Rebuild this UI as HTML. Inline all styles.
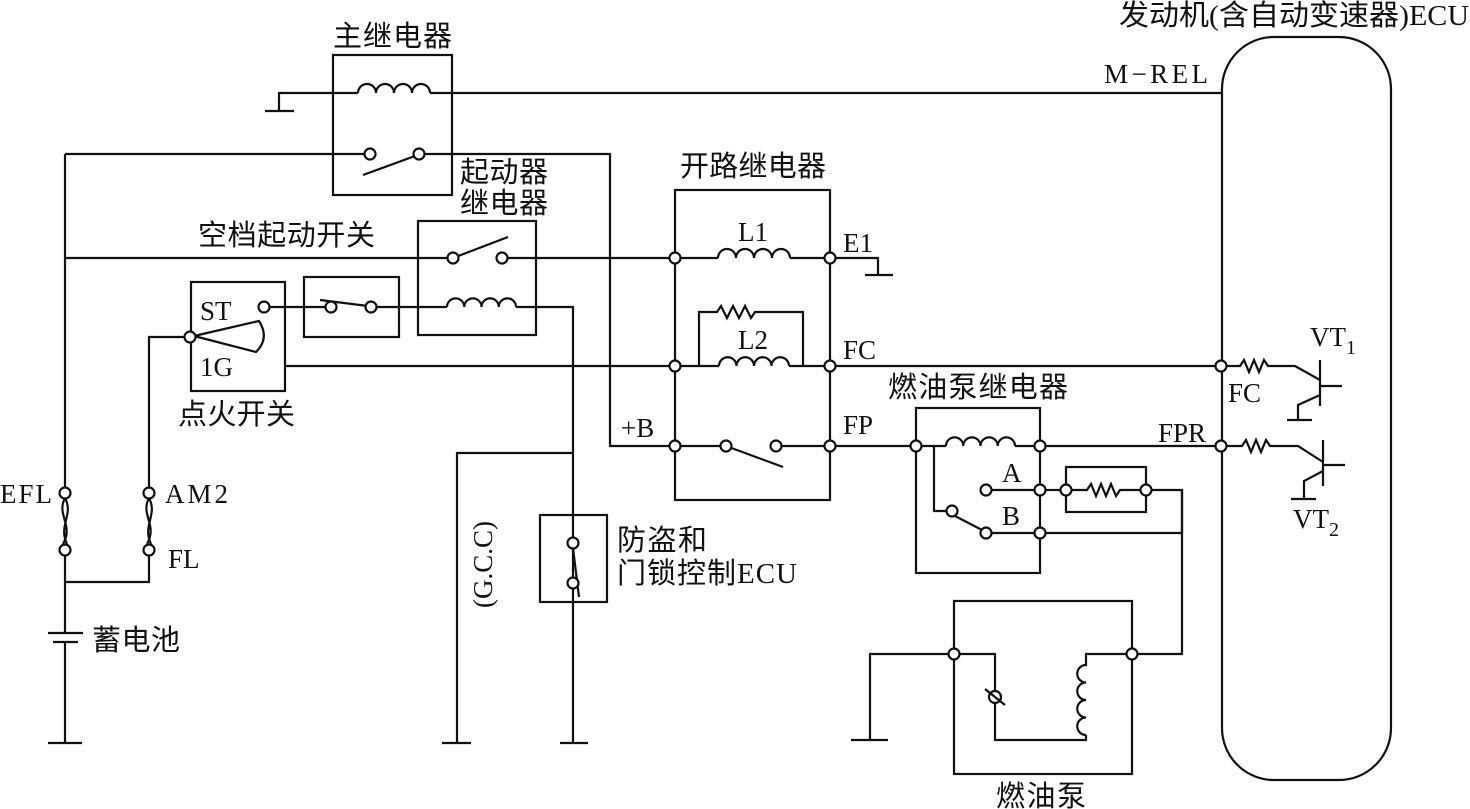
<!DOCTYPE html>
<html><head><meta charset="utf-8"><style>
html,body{margin:0;padding:0;background:#fff;}
svg{display:block;}
text{font-family:"Liberation Serif","Noto Serif CJK SC",serif;fill:#111;}
.c{font-family:"Liberation Serif","Noto Sans CJK SC",sans-serif;font-size:29px;}
.l{font-size:27px;}
</style></head><body>
<svg width="1470" height="809" viewBox="0 0 1470 809" xmlns="http://www.w3.org/2000/svg">
<g fill="none" stroke="#111" stroke-width="2.2">
<rect x="1222" y="37" width="169" height="743" rx="52" ry="52"/>
<rect x="333" y="55" width="119" height="140"/>
<path d="M279 111V93H358"/><path d="M265 111H294"/>
<path d="M358 93a9 9 0 0 1 18 0a9 9 0 0 1 18 0a9 9 0 0 1 18 0a9 9 0 0 1 18 0"/>
<path d="M430 93H1222"/>
<path d="M65 154H365"/><path d="M424 154H610V446H670"/>
<path d="M363 175L415 156"/>
<path d="M65 154V488"/>
<path d="M65 258H448"/><path d="M507 258H670"/>
<path d="M453 258L508 237"/>
<rect x="418" y="221" width="118" height="114"/>
<path d="M447 307a8.6 8.6 0 0 1 17.25 0a8.6 8.6 0 0 1 17.25 0a8.6 8.6 0 0 1 17.25 0a8.6 8.6 0 0 1 17.25 0"/>
<path d="M516 307H573V743"/><path d="M560 743H588"/>
<rect x="304" y="277" width="95" height="60"/>
<path d="M269 307H326"/><path d="M376 307H447"/>
<path d="M320 300L368 306"/>
<rect x="191" y="282" width="94" height="109"/>
<path d="M194 336L259 321Q270 338 256 352Z"/>
<path d="M185 337H149V488"/>
<path d="M285 366H670"/>
<path d="M65 498C56 515 74 525 63 544M65 498C74 515 58 525 67 544"/>
<path d="M149 498C140 515 158 525 147 544M149 498C158 515 142 525 151 544"/>
<path d="M65 555V633M65 582H149V555"/>
<path d="M48 633H83M53 642H78M65 642V743M48 743H82"/>
<path d="M457 743V453H573"/><path d="M442 743H471"/>
<rect x="540" y="515" width="67" height="87"/>
<path d="M573 548L579 597"/>
<rect x="675" y="190" width="155" height="310"/>
<path d="M680 258H718M790 258H825"/>
<path d="M718 258a9 9 0 0 1 18 0a9 9 0 0 1 18 0a9 9 0 0 1 18 0a9 9 0 0 1 18 0"/>
<path d="M835 258H878V275M865 275H893"/>
<path d="M680 366H719M789 366H825"/>
<path d="M719 366a8.75 8.75 0 0 1 17.5 0a8.75 8.75 0 0 1 17.5 0a8.75 8.75 0 0 1 17.5 0a8.75 8.75 0 0 1 17.5 0"/>
<path d="M699 366V312H717L721 306L727 318L733 306L739 318L745 306L751 318L755 312H803V366"/>
<path d="M835 366H1216"/>
<path d="M680 446H721M781 446H825"/>
<path d="M726 446L783 467"/>
<path d="M835 446H911"/>
<rect x="916" y="408" width="124" height="165"/>
<path d="M921 446H946M1015 446H1035"/>
<path d="M946 446a8.6 8.6 0 0 1 17.25 0a8.6 8.6 0 0 1 17.25 0a8.6 8.6 0 0 1 17.25 0a8.6 8.6 0 0 1 17.25 0"/>
<path d="M1045 446H1216"/>
<path d="M934 446V511H947"/>
<path d="M955 516L982 530"/>
<path d="M991 490H1035"/><path d="M991 533H1035"/>
<path d="M1045 490H1061"/><path d="M1045 533H1182V490H1151"/>
<rect x="1066" y="467" width="80" height="45"/>
<path d="M1071 490H1087L1091 484L1096 496L1101 484L1106 496L1111 484L1116 496L1120 490H1141"/>
<path d="M1182 490V654H1137"/>
<rect x="954" y="601" width="178" height="173"/>
<path d="M949 654H870V740M851 740H888"/>
<path d="M959 654H995V740H1086V735"/>
<path d="M1086 735a8.75 8.75 0 0 1 0 -17.5a8.75 8.75 0 0 1 0 -17.5a8.75 8.75 0 0 1 0 -17.5a8.75 8.75 0 0 1 0 -17.5V654H1127"/>
<circle cx="995" cy="697" r="6" fill="#fff"/>
<path d="M985 689L1005 705"/>
<path d="M1226 366H1240L1244 360L1249 372L1254 360L1259 372L1264 360L1268 366H1295L1320 380"/>
<path d="M1320 360V406M1320 386H1342M1320 395L1298 405V420M1287 420H1312"/>
<path d="M1226 446H1242L1246 440L1251 452L1256 440L1261 452L1266 440L1270 446H1298L1323 462"/>
<path d="M1323 440V486M1323 465H1345M1323 471L1304 481V499M1291 499H1316"/>
</g>
<g fill="#fff" stroke="#111" stroke-width="2.2">
<circle cx="370" cy="154" r="5.5"/><circle cx="419" cy="154" r="5.5"/>
<circle cx="453" cy="258" r="5.5"/><circle cx="502" cy="258" r="5.5"/>
<circle cx="264" cy="307" r="5.5"/><circle cx="331" cy="307" r="5.5"/><circle cx="371" cy="307" r="5.5"/>
<circle cx="190" cy="337" r="5.5"/>
<circle cx="65" cy="493" r="5.5"/><circle cx="65" cy="550" r="5.5"/>
<circle cx="149" cy="493" r="5.5"/><circle cx="149" cy="550" r="5.5"/>
<circle cx="573" cy="543" r="5.5"/><circle cx="573" cy="583" r="5.5"/>
<circle cx="675" cy="258" r="5.5"/><circle cx="830" cy="258" r="5.5"/>
<circle cx="675" cy="366" r="5.5"/><circle cx="830" cy="366" r="5.5"/>
<circle cx="675" cy="446" r="5.5"/><circle cx="830" cy="446" r="5.5"/>
<circle cx="726" cy="446" r="5.5"/><circle cx="776" cy="446" r="5.5"/>
<circle cx="916" cy="446" r="5.5"/><circle cx="1040" cy="446" r="5.5"/>
<circle cx="952" cy="511" r="5.5"/><circle cx="986" cy="490" r="5.5"/><circle cx="986" cy="533" r="5.5"/>
<circle cx="1040" cy="490" r="5.5"/><circle cx="1040" cy="533" r="5.5"/>
<circle cx="1066" cy="490" r="5.5"/><circle cx="1146" cy="490" r="5.5"/>
<circle cx="954" cy="654" r="5.5"/><circle cx="1132" cy="654" r="5.5"/>
<circle cx="1221" cy="366" r="5.5"/><circle cx="1221" cy="446" r="5.5"/>
</g>
<g>
<text class="c" x="1119" y="25" textLength="350" lengthAdjust="spacingAndGlyphs">发动机(含自动变速器)ECU</text>
<text class="c" x="333" y="46" textLength="119">主继电器</text>
<text class="c" x="460" y="182" textLength="88">起动器</text>
<text class="c" x="460" y="213" textLength="88">继电器</text>
<text class="c" x="680" y="176" textLength="146">开路继电器</text>
<text class="c" x="198" y="245" textLength="177">空档起动开关</text>
<text class="c" x="178" y="424" textLength="117">点火开关</text>
<text class="c" x="888" y="397" textLength="180">燃油泵继电器</text>
<text class="c" x="92" y="650" textLength="88">蓄电池</text>
<text class="c" x="617" y="550" textLength="90">防盗和</text>
<text class="c" x="617" y="583" textLength="180">门锁控制ECU</text>
<text class="c" x="996" y="806" textLength="90">燃油泵</text>
<text class="l" x="1104" y="83" textLength="104">M−REL</text>
<text class="l" x="200" y="320">ST</text>
<text class="l" x="200" y="376">1G</text>
<text class="l" x="0" y="503" textLength="52">EFL</text>
<text class="l" x="165" y="503" textLength="63">AM2</text>
<text class="l" x="168" y="568">FL</text>
<text class="l" x="738" y="241">L1</text>
<text class="l" x="738" y="349">L2</text>
<text class="l" x="843" y="252">E1</text>
<text class="l" x="843" y="359">FC</text>
<text class="l" x="843" y="434">FP</text>
<text class="l" x="621" y="437">+B</text>
<text class="l" x="1158" y="442">FPR</text>
<text class="l" x="1002" y="482">A</text>
<text class="l" x="1002" y="525">B</text>
<text class="l" x="1228" y="402">FC</text>
<text class="l" x="1310" y="346">VT<tspan font-size="20" dy="8">1</tspan></text>
<text class="l" x="1293" y="528">VT<tspan font-size="20" dy="8">2</tspan></text>
<text class="l" transform="translate(492,608) rotate(-90)">(G.C.C)</text>
</g>
</svg>
</body></html>
